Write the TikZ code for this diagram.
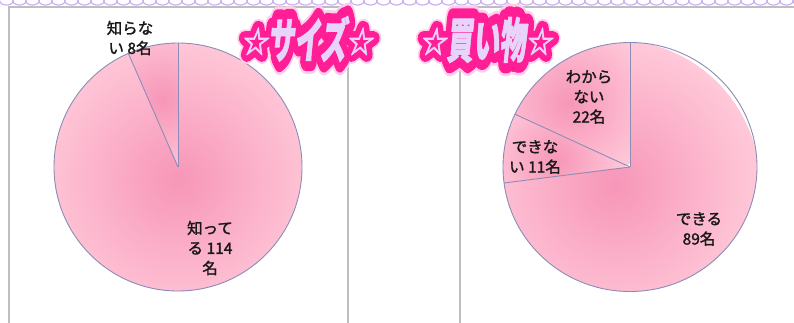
\documentclass[tikz,border=0pt]{standalone}
\usepackage{graphicx}
\usepackage{fontspec}
\setmainfont{Noto Sans CJK JP}
\newfontfamily\lblfont{Noto Sans CJK JP}[FakeBold=1.6]
\newfontfamily\ttlfont{Noto Sans CJK JP}[FakeSlant=0.18, FakeBold=2]
\newfontfamily\ttloutfont{Noto Sans CJK JP}[FakeSlant=0.18, FakeBold=44]
\newfontfamily\ttlglowfont{Noto Sans CJK JP}[FakeSlant=0.18, FakeBold=56]
\definecolor{pinkD}{RGB}{247,150,184}
\definecolor{pinkL}{RGB}{255,201,217}
\definecolor{edgec}{RGB}{140,140,182}
\definecolor{framec}{RGB}{190,190,190}
\definecolor{tpink}{RGB}{255,30,150}
\definecolor{tfill}{RGB}{232,212,250}
\definecolor{lav}{RGB}{200,172,242}
\definecolor{txt}{RGB}{25,25,25}
\newcommand\myStar{\raisebox{5pt}{\scalebox{0.85}[1]{\fontsize{31}{31}\selectfont ☆}}}
\newcommand\myTtl[1]{\myStar\scalebox{0.55}[1]{\fontsize{48}{48}\selectfont #1}\myStar}
\tikzset{
  framebox/.style={draw=framec, line width=1.2pt},
  pieedge/.style={draw=edgec, line width=0.9pt},
  lbl/.style={font=\lblfont\fontsize{15.5}{20}\selectfont, text=txt, align=center, inner sep=0pt},
  ttl/.style={font=\ttlfont\bfseries, inner sep=0pt},
  ttlout/.style={font=\ttloutfont\bfseries, inner sep=0pt, text=tpink},
  ttlglow/.style={font=\ttlglowfont\bfseries, inner sep=0pt, text=tpink!22},
  pieshade/.style={inner color=pinkD, outer color=pinkL},
}
\begin{document}
\begin{tikzpicture}[x=1pt,y=1pt]
\useasboundingbox (0,0) rectangle (794,322);
\fill[white] (0,0) rectangle (794,322);
% frames
\draw[framebox] (9,-5) -- (9,315) -- (348,315) -- (348,-5);
\draw[framebox] (460,-5) -- (460,315) -- (800,315);
% wave band (chain of loops)
\foreach \k in {0,...,61}{
  \draw[lav, line width=1.1pt] plot[domain=0:360, samples=30, smooth] ({13*\k + 13*\x/360 - 2.6*sin(\x)}, {319.3+2.3*cos(\x)});
}
% left pie
\coordinate (CL) at (178,155);
\begin{scope}
\clip (CL) -- ++(0,124) arc[start angle=90,end angle=113.607,radius=124] -- cycle;
\shade[pieshade] (163,222) circle (80);
\end{scope}
\begin{scope}
\clip (CL) -- ++(113.607:124) arc[start angle=113.607,end angle=450,radius=124] -- cycle;
\shade[pieshade] (178,142) circle (145);
\end{scope}
\draw[pieedge] (CL) circle (124);
\draw[pieedge] (CL) -- ++(0,124);
\draw[pieedge] (CL) -- ++(113.607:124);
% right pie
\coordinate (CR) at (630,155);
\begin{scope}
\clip (CR) -- ++(0,124.5) arc[start angle=90,end angle=154.918,x radius=127,y radius=124.5] -- cycle;
\shade[pieshade] (570,219) circle (85);
\end{scope}
\begin{scope}
\clip (CR) -- ++({127*cos(154.918)},{124.5*sin(154.918)}) arc[start angle=154.918,end angle=187.377,x radius=127,y radius=124.5] -- cycle;
\shade[pieshade] (556,162) circle (70);
\end{scope}
\begin{scope}
\clip (CR) -- ++({127*cos(187.377)},{124.5*sin(187.377)}) arc[start angle=187.377,end angle=450,x radius=127,y radius=124.5] -- cycle;
\shade[pieshade] (615,137) circle (145);
\end{scope}
\draw[pieedge] (CR) ellipse[x radius=127,y radius=124.5];
\draw[pieedge] (CR) -- ++(0,124.5);
\draw[pieedge] (CR) -- ++({127*cos(154.918)},{124.5*sin(154.918)});
\draw[pieedge] (CR) -- ++({127*cos(187.377)},{124.5*sin(187.377)});
% labels
\node[lbl] (l1) at (130,284) {知らな\\い 8名};
\node[lbl] (l2) at (210,74) {知って\\る 114\\名};
\node[lbl] (r1) at (589,225) {わから\\ない\\22名};
\node[lbl] (r2) at (535,165) {できな\\い 11名};
\node[lbl] (r3) at (699,93) {できる\\89名};
% titles
\coordinate (TA) at (307,283);
\coordinate (TB) at (486,282);
\begin{scope}[line join=round, line cap=round]
\node[ttlglow] (gA) at (TA) {\myTtl{サイズ}};
\node[ttlglow] (gB) at (TB) {\myTtl{買い物}};
\node[ttlout] (oA) at (TA) {\myTtl{サイズ}};
\node[ttlout] (oB) at (TB) {\myTtl{買い物}};
\node[ttl, text=tfill] (titleA) at (TA) {\myTtl{サイズ}};
\node[ttl, text=tfill] (titleB) at (TB) {\myTtl{買い物}};
\end{scope}
\end{tikzpicture}
\end{document}
